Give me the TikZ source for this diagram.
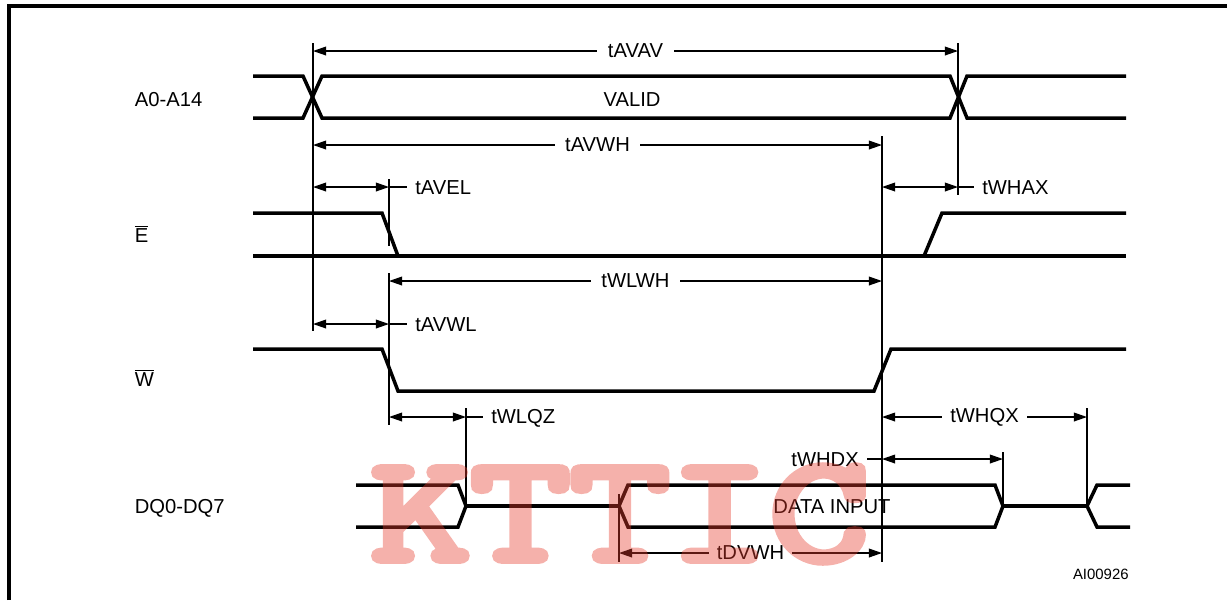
\documentclass[tikz,border=0pt]{standalone}
\usepackage{fontspec}
\setmainfont{Liberation Sans}
\newfontfamily\markfont[FakeBold=5]{Latin Modern Mono}
\usetikzlibrary{arrows.meta}
\definecolor{markred}{RGB}{230,60,45}

\begin{document}
\begin{tikzpicture}[x=0.02cm,y=-0.02cm,
		sig/.style={line width=2pt,line join=miter},
		ref/.style={line width=0.75pt},
		dim/.style={ref,{Triangle[length=7.5pt,width=5pt]}-{Triangle[length=7.5pt,width=5pt]}},
		lbl/.style={font=\fontsize{11.5}{14}\selectfont,inner sep=2pt},
		tag/.style={lbl,fill=white,inner xsep=6pt},
		note/.style={lbl,inner xsep=4.5pt}]
	\useasboundingbox (0,0) rectangle (1227,600);
	\draw[line width=1.8pt] (9,600) -- (9,6) -- (1227,6);

	% signal names
	\node[lbl,anchor=west] (a) at (131,100) {A0-A14};
	\node[lbl,anchor=west] (e) at (131,234) {$\overline{\hbox{E}}$};
	\node[lbl,anchor=west] (w) at (131,378) {$\overline{\hbox{W}}$};
	\node[lbl,anchor=west] (dq) at (131,508) {DQ0-DQ7};

	% waveforms
	\draw[sig] (253,76) -- (303,76) -- (322,118) -- (950,118) -- (967,76) -- (1126,76);
	\draw[sig] (253,118) -- (303,118) -- (322,76) -- (950,76) -- (967,118) -- (1126,118);
	\node[lbl] (valid) at (632,100) {VALID};

	\draw[sig] (253,213) -- (382,213) -- (398,256);
	\draw[sig] (253,256) -- (1126,256);
	\draw[sig] (924,256) -- (942,213) -- (1126,213);

	\draw[sig] (253,349) -- (382,349) -- (398,391) -- (874,391) -- (891,349) -- (1126,349);

	\draw[sig] (356,485) -- (458,485) -- (466,506) -- (458,527) -- (356,527);
	\draw[sig] (466,506) -- (619,506);
	\draw[sig] (995,485) -- (628,485) -- (619,506) -- (628,527) -- (995,527) -- (1003,506) -- cycle;
	\draw[sig] (1003,506) -- (1087,506);
	\draw[sig] (1130,485) -- (1097,485) -- (1087,506) -- (1097,527) -- (1130,527);
	\node[lbl] (din) at (832,507) {DATA INPUT};

	% reference lines
	\draw[ref] (313,43) -- (313,331);
	\draw[ref] (958,43) -- (958,195);
	\draw[ref] (882,136) -- (882,562);
	\draw[ref] (389,179) -- (389,246);
	\draw[ref] (389,273) -- (389,425);
	\draw[ref] (466,408) -- (466,506);
	\draw[ref] (619,494) -- (619,562);
	\draw[ref] (1003,452) -- (1003,506);
	\draw[ref] (1087,408) -- (1087,506);

	% timing arrows
	\coordinate (avav1) at (313,51);  \coordinate (avav2) at (958,51);
	\coordinate (avwh1) at (313,145); \coordinate (avwh2) at (882,145);
	\coordinate (avel1) at (313,187); \coordinate (avel2) at (389,187);
	\coordinate (whax1) at (882,187); \coordinate (whax2) at (958,187);
	\coordinate (wlwh1) at (389,281); \coordinate (wlwh2) at (882,281);
	\coordinate (avwl1) at (313,324); \coordinate (avwl2) at (389,324);
	\coordinate (wlqz1) at (389,417); \coordinate (wlqz2) at (466,417);
	\coordinate (whqx1) at (882,417); \coordinate (whqx2) at (1087,417);
	\coordinate (whdx1) at (882,459); \coordinate (whdx2) at (1003,459);
	\coordinate (dvwh1) at (619,553); \coordinate (dvwh2) at (882,553);

	\draw[dim] (avav1) -- node[tag] {tAVAV} (avav2);
	\draw[dim] (avwh1) -- node[tag] {tAVWH} (avwh2);
	\draw[dim] (wlwh1) -- node[tag] {tWLWH} (wlwh2);
	\draw[dim] (whqx1) -- node[tag,inner xsep=4.5pt] {tWHQX} (whqx2);
	\draw[dim] (dvwh1) -- node[tag,inner xsep=4.5pt] {tDVWH} (dvwh2);

	\node[note,anchor=west] (tavel) at (407,188) {tAVEL};
	\draw[dim] (avel1) -- (avel2);
	\draw[ref] (avel2) -- (tavel.west |- avel2);
	\node[note,anchor=west] (twhax) at (974,188) {tWHAX};
	\draw[dim] (whax1) -- (whax2);
	\draw[ref] (whax2) -- (twhax.west |- whax2);
	\node[note,anchor=west] (tavwl) at (407,325) {tAVWL};
	\draw[dim] (avwl1) -- (avwl2);
	\draw[ref] (avwl2) -- (tavwl.west |- avwl2);
	\node[note,anchor=west] (twlqz) at (483,418) {tWLQZ};
	\draw[dim] (wlqz1) -- (wlqz2);
	\draw[ref] (wlqz2) -- (twlqz.west |- wlqz2);
	\node[note,anchor=east] (twhdx) at (867,460) {tWHDX};
	\draw[dim] (whdx1) -- (whdx2);
	\draw[ref] (whdx1) -- (twhdx.east |- whdx1);

	\node[font=\fontsize{8.5}{10}\selectfont,anchor=east,inner sep=0pt] (id) at (1129,574) {AI00926};

	% watermark
	\begin{scope}[transparency group,opacity=0.4]
		\node[font=\markfont\fontsize{86}{86}\selectfont,text=markred,
			inner sep=0pt,xscale=1.28,transform shape] (mark) at (620,514) {KTTIC};
	\end{scope}
\end{tikzpicture}
\end{document}
